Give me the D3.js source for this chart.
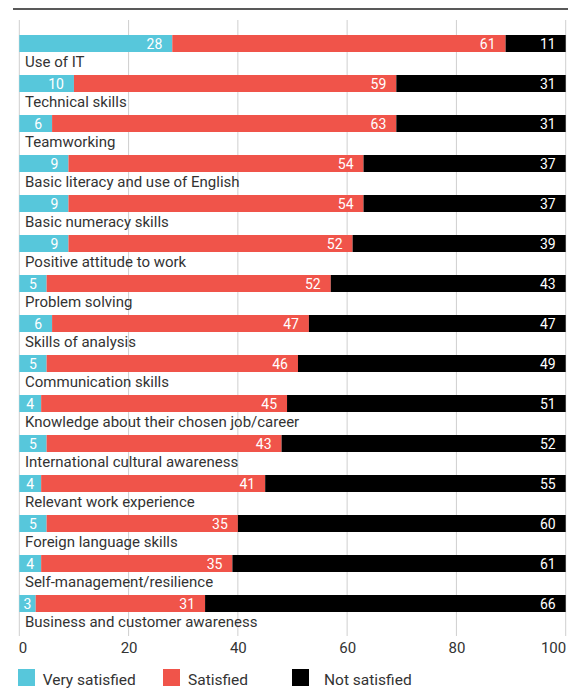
<!DOCTYPE html>
<html>
<head>
<meta charset="utf-8">
<script src="https://cdn.jsdelivr.net/npm/d3@7"></script>
<style>
body { margin: 0; background: #fff; }
svg text { font-family: Roboto, "Noto Sans", sans-serif; }
</style>
</head>
<body>
<svg width="579" height="699"></svg>
<script>
var categories = ["Use of IT", "Technical skills", "Teamworking", "Basic literacy and use of English",
    "Basic numeracy skills", "Positive attitude to work", "Problem solving", "Skills of analysis",
    "Communication skills", "Knowledge about their chosen job/career", "International cultural awareness",
    "Relevant work experience", "Foreign language skills", "Self-management/resilience",
    "Business and customer awareness"];
var verySatisfied = [28, 10, 6, 9, 9, 9, 5, 6, 5, 4, 5, 4, 5, 4, 3];
var satisfied = [61, 59, 63, 54, 54, 52, 52, 47, 46, 45, 43, 41, 35, 35, 31];
var notSatisfied = [11, 31, 31, 37, 37, 39, 43, 47, 49, 51, 52, 55, 60, 61, 66];
var seriesNames = ["Very satisfied", "Satisfied", "Not satisfied"];
var tickValues = [0, 20, 40, 60, 80, 100];

var colors = ["#57c7db", "#f0544a", "#000000"];

var svg = d3.select("svg");

var x = d3.scaleLinear().domain([0, 100]).range([19.3, 565.7]);
var y = d3.scaleBand().domain(categories).range([35, 635]);
var barH = 17;

// top rule
svg.append("line")
    .attr("x1", 13).attr("x2", 568).attr("y1", 9).attr("y2", 9)
    .attr("stroke", "#222").attr("stroke-width", 1.5);

// gridlines
svg.append("g").selectAll("line").data(tickValues).enter().append("line")
    .attr("x1", function(d){return x(d);}).attr("x2", function(d){return x(d);})
    .attr("y1", 20).attr("y2", 636)
    .attr("stroke", "#cfcfcf").attr("stroke-width", 1);

var rows = categories.map(function(c, i){
    var vals = [verySatisfied[i], satisfied[i], notSatisfied[i]];
    var start = 0;
    return {cat: c, segs: vals.map(function(v, k){
        var s = {k: k, v: v, x0: start, x1: start + v};
        start += v;
        return s;
    })};
});

var row = svg.append("g").selectAll("g").data(rows).enter().append("g");

row.selectAll("rect").data(function(d){return d.segs;}).enter().append("rect")
    .attr("x", function(d){return x(d.x0);})
    .attr("width", function(d){return x(d.x1) - x(d.x0);})
    .attr("y", function(d){ return y(d3.select(this.parentNode).datum().cat); })
    .attr("height", barH)
    .attr("fill", function(d){return colors[d.k];});

row.selectAll("text.val").data(function(d){return d.segs;}).enter().append("text")
    .attr("class", "val")
    .attr("fill", "#fff")
    .attr("font-size", 14)
    .attr("text-anchor", "end")
    .attr("y", function(d){ return y(d3.select(this.parentNode).datum().cat) + barH / 2 + 5.5; })
    .text(function(d){return d.v;})
    .attr("x", function(d){
        var w = x(d.x1) - x(d.x0);
        var tw = this.getComputedTextLength();
        var pad = Math.min(10, (w - tw) / 2);
        return x(d.x1) - pad;
    });

row.append("text")
    .attr("x", 25)
    .attr("y", function(d){return y(d.cat) + 32;})
    .attr("font-size", 15)
    .attr("fill", "#333")
    .text(function(d){return d.cat;});

// axis labels
var axis = svg.append("g")
    .attr("transform", "translate(0,637)")
    .call(d3.axisBottom(x).tickValues(tickValues).tickSize(0).tickPadding(0));
axis.select(".domain").remove();
axis.selectAll("text")
    .attr("font-family", "Roboto, sans-serif")
    .attr("font-size", 15)
    .attr("fill", "#333")
    .attr("dy", "15.7")
    .attr("text-anchor", function(d){ return d === 0 ? "start" : (d === 100 ? "end" : "middle"); })
    .attr("dx", function(d){ return d === 0 ? -1 : 0; });

// legend
var legendX = [18, 163, 292];
var legendTextX = [42.7, 188, 324];
var legend = svg.append("g").selectAll("g").data(seriesNames).enter().append("g");
legend.append("rect")
    .attr("x", function(d, i){return legendX[i];})
    .attr("y", 669).attr("width", 17).attr("height", 17)
    .attr("fill", function(d, i){return colors[i];});
legend.append("text")
    .attr("x", function(d, i){return legendTextX[i];})
    .attr("y", 685)
    .attr("font-size", 15.5)
    .attr("fill", "#333")
    .text(function(d){return d;});
</script>
</body>
</html>
